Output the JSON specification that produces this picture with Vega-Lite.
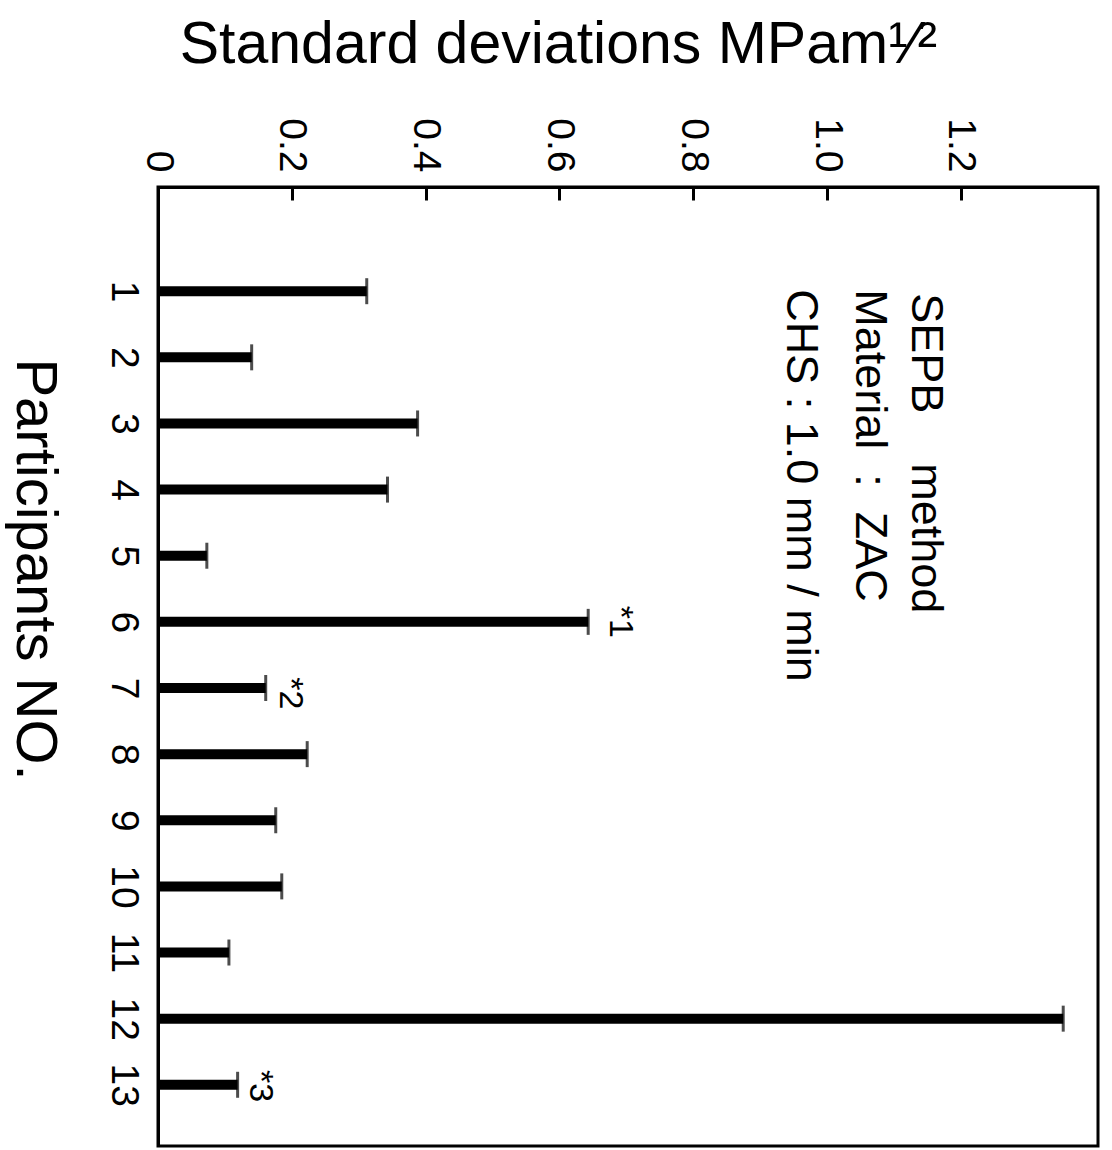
{
  "$schema": "https://vega.github.io/schema/vega-lite/v6.json",
  "width": 940,
  "height": 959,
  "autosize": {"type": "none"},
  "padding": {"left": 158, "top": 187, "right": 14, "bottom": 4},
  "background": "white",
  "config": {
    "view": {"stroke": "black", "strokeWidth": 3},
    "font": "Liberation Sans",
    "text": {"font": "Liberation Sans", "color": "black"}
  },
  "datasets": {
    "bars": [
      {"participant": 1, "sd": 0.312},
      {"participant": 2, "sd": 0.140},
      {"participant": 3, "sd": 0.388},
      {"participant": 4, "sd": 0.343},
      {"participant": 5, "sd": 0.073},
      {"participant": 6, "sd": 0.643},
      {"participant": 7, "sd": 0.161},
      {"participant": 8, "sd": 0.223},
      {"participant": 9, "sd": 0.176},
      {"participant": 10, "sd": 0.185},
      {"participant": 11, "sd": 0.106},
      {"participant": 12, "sd": 1.353},
      {"participant": 13, "sd": 0.119}
    ],
    "notes": [
      {"label": "*1", "sd": 0.69, "participant": 6},
      {"label": "*2", "sd": 0.197, "participant": 7.08},
      {"label": "*3", "sd": 0.152, "participant": 13.02}
    ],
    "info": [
      {"label": "SEPB\u00a0\u00a0\u00a0\u00a0method", "sd": 1.148, "participant": 1.03},
      {"label": "Material\u00a0\u00a0:\u00a0\u00a0ZAC", "sd": 1.064, "participant": 0.97},
      {"label": "CHS : 1.0 mm / min", "sd": 0.961, "participant": 0.97}
    ]
  },
  "layer": [
    {
      "data": {"name": "bars"},
      "mark": {"type": "bar", "orient": "horizontal", "size": 10, "color": "black"},
      "encoding": {
        "x": {
          "field": "sd",
          "type": "quantitative",
          "scale": {"domain": [0, 1.405], "nice": false, "zero": true},
          "axis": {
            "orient": "top",
            "values": [0, 0.2, 0.4, 0.6, 0.8, 1.0, 1.2],
            "labelExpr": "datum.value == 0 ? '0' : format(datum.value, '.1f')",
            "labelAngle": 90,
            "labelAlign": "right",
            "labelBaseline": "middle",
            "labelFontSize": 39,
            "labelFont": "Liberation Sans",
            "labelColor": "black",
            "labelPadding": 28,
            "labelFlush": false,
            "labelOverlap": false,
            "tickSize": -13,
            "tickWidth": 3,
            "tickColor": "black",
            "domainColor": "black",
            "domainWidth": 3,
            "grid": false,
            "title": "Standard deviations MPam\u00b9\u2044\u00b2",
            "titleFont": "Liberation Sans",
            "titleFontSize": 59,
            "titleFontWeight": "normal",
            "titleColor": "black",
            "titleX": 400,
            "titleY": -125,
            "titleAlign": "center",
            "titleBaseline": "alphabetic",
            "titleAngle": 0
          }
        },
        "y": {
          "field": "participant",
          "type": "quantitative",
          "scale": {"domain": [-0.5, 13.85], "reverse": true, "nice": false, "zero": false},
          "axis": {
            "orient": "left",
            "values": [1, 2, 3, 4, 5, 6, 7, 8, 9, 10, 11, 12, 13],
            "format": "d",
            "labelAngle": 90,
            "labelAlign": "center",
            "labelBaseline": "top",
            "labelFontSize": 39,
            "labelFont": "Liberation Sans",
            "labelColor": "black",
            "labelPadding": 16,
            "labelFlush": false,
            "labelOverlap": false,
            "ticks": false,
            "domainColor": "black",
            "domainWidth": 3,
            "grid": false,
            "title": "Participants NO.",
            "titleFont": "Liberation Sans",
            "titleFontSize": 58,
            "titleFontWeight": "normal",
            "titleColor": "black",
            "titleAngle": 90,
            "titleX": -125,
            "titleY": 382,
            "titleAlign": "center",
            "titleBaseline": "middle"
          }
        }
      }
    },
    {
      "data": {"name": "bars"},
      "mark": {"type": "tick", "orient": "vertical", "size": 26, "thickness": 3, "color": "black"},
      "encoding": {
        "x": {"field": "sd", "type": "quantitative"},
        "y": {"field": "participant", "type": "quantitative"}
      }
    },
    {
      "data": {"name": "notes"},
      "mark": {"type": "text", "angle": 90, "align": "center", "baseline": "middle", "fontSize": 34},
      "encoding": {
        "x": {"field": "sd", "type": "quantitative"},
        "y": {"field": "participant", "type": "quantitative"},
        "text": {"field": "label"}
      }
    },
    {
      "data": {"name": "info"},
      "mark": {"type": "text", "angle": 90, "align": "left", "baseline": "middle", "fontSize": 45},
      "encoding": {
        "x": {"field": "sd", "type": "quantitative"},
        "y": {"field": "participant", "type": "quantitative"},
        "text": {"field": "label"}
      }
    }
  ]
}
